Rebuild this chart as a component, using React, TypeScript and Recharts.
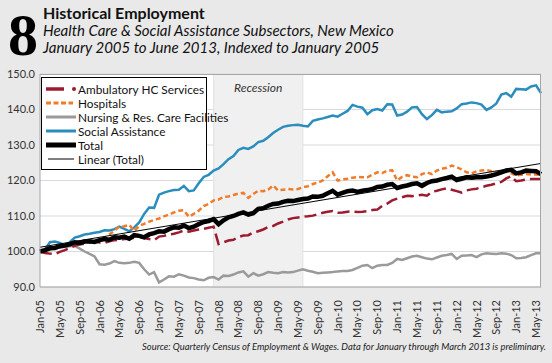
import { LineChart, Line, XAxis, YAxis, CartesianGrid, ReferenceArea } from 'recharts';

const monthNames = ['Jan', 'Feb', 'Mar', 'Apr', 'May', 'Jun', 'Jul', 'Aug', 'Sep', 'Oct', 'Nov', 'Dec'];
const yearSuffixes = ['05', '06', '07', '08', '09', '10', '11', '12', '13'];
// Jan-05 .. Jun-13
const periods = yearSuffixes.flatMap((y) => monthNames.map((m) => `${m}-${y}`)).slice(0, 102);

const ambulatory = [
  100.0, 99.6, 99.4, 99.3, 99.9, 100.4, 101.0, 101.6, 102.0, 102.2, 102.5, 102.8,
  102.5, 102.4, 102.9, 103.2, 103.3, 103.5, 103.6, 103.9, 104.2, 103.8, 103.5, 103.2,
  104.2, 104.4, 104.8, 105.0, 105.4, 105.9, 105.6, 105.9, 106.2, 106.4, 106.7, 107.0,
  102.1, 102.6, 103.1, 103.3, 104.1, 104.5, 104.6, 105.4, 105.7, 106.2, 106.9, 107.2,
  107.9, 108.4, 109.0, 109.4, 109.6, 109.8, 109.9, 110.1, 110.5, 110.9, 111.2, 111.4,
  110.9, 111.0, 111.2, 111.3, 111.1, 111.2, 111.4, 111.7, 111.8, 112.9, 113.5, 114.4,
  114.9, 115.3, 115.7, 115.6, 115.8, 116.0, 115.7, 116.8, 117.1, 117.5, 117.8, 117.4,
  117.0, 116.6, 117.2, 117.5, 117.7, 118.1, 118.5, 118.8, 119.2, 119.6, 120.6, 121.2,
  119.8, 120.0, 120.3, 120.4, 120.4, 120.4,
];

const hospitals = [
  100.0, 100.3, 100.8, 101.0, 101.2, 101.6, 101.9, 102.1, 102.2, 102.6, 102.8, 103.0,
  103.1, 103.6, 104.8, 105.9, 107.0, 107.1, 107.5, 105.8, 107.2, 107.8, 108.4, 108.9,
  109.3, 109.9, 110.4, 111.0, 111.5, 111.6, 109.8, 110.6, 111.5, 112.8, 113.4, 114.4,
  114.6, 115.4, 115.5, 115.9, 116.3, 116.5, 115.1, 116.2, 117.1, 117.0, 117.4, 118.6,
  117.2, 117.4, 117.6, 117.5, 117.6, 118.1, 118.4, 119.0, 119.4, 120.0, 121.2, 122.3,
  120.0, 120.3, 120.5, 120.8, 121.0, 120.9, 120.9, 121.6, 122.3, 122.1, 122.8, 122.9,
  120.0, 121.0, 121.5, 121.1, 120.9, 121.8, 122.3, 121.8, 122.8, 123.3, 123.6, 124.2,
  123.8, 123.1, 122.3, 122.0, 122.6, 122.8, 123.0, 122.6, 122.3, 122.4, 122.6, 122.0,
  121.4, 121.6, 121.8, 121.7, 121.7, 121.6,
];

const nursing = [
  100.0, 100.3, 100.6, 100.9, 101.1, 101.3, 101.5, 101.6, 100.8, 100.0, 99.3, 98.6,
  96.4, 96.3, 96.6, 97.3, 96.8, 96.7, 96.8, 97.1, 96.8, 95.0, 93.5, 94.2,
  91.3, 92.1, 93.0, 92.9, 93.6, 93.2, 92.7, 92.5, 92.1, 91.9, 92.6, 92.8,
  92.1, 93.2, 93.1, 93.5, 94.1, 94.4, 92.9, 93.9, 93.2, 93.6, 94.2, 94.0,
  93.9, 94.2, 94.1, 94.2, 94.6, 95.0, 94.6, 94.3, 93.9, 94.0, 94.1, 94.2,
  94.4, 94.5, 94.5, 94.8, 95.4, 96.0, 96.2, 95.3, 96.0, 96.2, 96.2, 96.8,
  97.9, 97.6, 98.1, 98.6, 98.8, 98.4, 98.0, 97.8, 98.3, 98.8, 99.0, 99.3,
  97.9, 98.8, 98.9, 99.0, 98.4, 99.2, 99.5, 99.4, 99.3, 99.5, 99.4, 99.0,
  98.1, 98.2, 98.4, 99.0, 99.5, 99.5,
];

const socialAssistance = [
  100.0, 100.6, 102.6, 102.8, 102.4, 101.7, 102.6, 103.9, 104.3, 104.8, 105.0, 105.3,
  105.5, 106.0, 105.9, 106.3, 107.0, 106.4, 105.7, 106.8, 108.2, 110.6, 112.4, 112.3,
  116.0, 116.6, 117.0, 117.3, 117.4, 118.5, 117.0, 117.2, 119.2, 121.0, 121.6, 122.8,
  123.4, 124.6, 126.0, 126.9, 128.6, 129.2, 128.9, 129.6, 130.8, 131.2, 132.2, 133.4,
  134.3, 135.1, 135.4, 135.6, 135.7, 135.4, 135.2, 136.8, 137.2, 137.5, 137.9, 138.3,
  138.0, 138.8, 139.6, 141.3, 140.8, 140.5, 138.7, 139.8, 140.1, 139.7, 141.5, 141.4,
  138.3, 138.6, 139.4, 140.6, 140.7, 138.7, 137.3, 138.4, 139.9, 139.2, 139.4, 139.5,
  140.3, 141.5, 141.7, 142.0, 141.8, 141.4, 139.9, 140.6, 141.7, 144.2, 144.6, 143.6,
  145.8, 145.7, 145.6, 146.5, 146.8, 144.6,
];

const total = [
  100.0, 100.4, 100.9, 101.0, 101.5, 101.7, 102.0, 102.6, 102.4, 102.8, 102.9, 102.7,
  103.2, 103.5, 103.3, 104.0, 103.9, 104.2, 103.6, 104.6, 104.4, 104.0, 104.8, 105.2,
  105.7, 105.6, 106.3, 106.8, 106.7, 107.3, 106.6, 107.0, 107.7, 108.3, 108.6, 109.1,
  107.7, 108.8, 109.6, 110.0, 110.6, 111.0, 110.4, 110.8, 112.0, 112.2, 112.9, 113.4,
  113.5, 114.0, 114.3, 114.2, 114.5, 114.8, 114.9, 115.5, 115.4, 115.7, 116.4, 117.1,
  116.0, 116.5, 117.0, 117.2, 116.8, 117.1, 117.3, 117.6, 118.2, 118.3, 118.8, 119.0,
  117.9, 118.3, 118.6, 119.0, 119.2, 118.5, 119.3, 119.8, 120.0, 120.4, 120.7, 121.1,
  120.1, 120.5, 120.9, 120.8, 120.9, 120.9, 121.1, 121.4, 121.8, 122.3, 122.8, 123.0,
  122.0, 122.3, 122.8, 122.7, 122.6, 121.8,
];

// trendline end points
const linearStart = 101.2;
const linearEnd = 124.8;

const yTicks = [90, 100, 110, 120, 130, 140, 150];

const data = periods.map((period, i) => ({
  period,
  ambulatory: ambulatory[i],
  hospitals: hospitals[i],
  nursing: nursing[i],
  social: socialAssistance[i],
  total: total[i],
  linear: i === 0 ? linearStart : i === periods.length - 1 ? linearEnd : null,
}));

const FONT = 'Lato, "Open Sans", sans-serif';

const XTick = ({ x, y, payload }: any) => (
  <text
    x={x}
    y={y}
    transform={`rotate(-90 ${x} ${y})`}
    textAnchor="end"
    dx={-5}
    dy={4}
    fontSize={11}
    fill="#333"
    fontFamily={FONT}
  >
    {payload.value}
  </text>
);

const legendRows = [
  { label: 'Ambulatory HC Services', kind: 'amb' },
  { label: 'Hospitals', kind: 'hosp' },
  { label: 'Nursing & Res. Care Facilities', kind: 'nurs' },
  { label: 'Social Assistance', kind: 'soc' },
  { label: 'Total', kind: 'tot' },
  { label: 'Linear (Total)', kind: 'lin' },
];

const LegendIcon = ({ kind }: { kind: string }) => (
  <svg width={32} height={10} style={{ display: 'block', flex: 'none' }}>
    {kind === 'amb' && (
      <>
        <line x1={0} y1={5} x2={18} y2={5} stroke="#9b1b30" strokeWidth={3.5} />
        <circle cx={28} cy={5} r={2} fill="#9b1b30" />
      </>
    )}
    {kind === 'hosp' && <line x1={0} y1={5} x2={27} y2={5} stroke="#f07c2a" strokeWidth={3} strokeDasharray="5 2.5" />}
    {kind === 'nurs' && <line x1={0} y1={5} x2={30} y2={5} stroke="#9a9a9a" strokeWidth={3} />}
    {kind === 'soc' && <line x1={0} y1={5} x2={30} y2={5} stroke="#2a8dbd" strokeWidth={3} />}
    {kind === 'tot' && <line x1={0} y1={5} x2={30} y2={5} stroke="#000" strokeWidth={5} />}
    {kind === 'lin' && <line x1={2} y1={5} x2={28} y2={5} stroke="#000" strokeWidth={1} />}
  </svg>
);

export default function App() {
  return (
    <div
      style={{
        position: 'absolute',
        left: 0,
        top: 0,
        width: 552,
        height: 363,
        background: '#e9e9e9',
        overflow: 'hidden',
      }}
    >
      {/* header */}
      <div
        style={{
          position: 'absolute',
          left: 8,
          top: 1,
          fontFamily: '"Liberation Serif", serif',
          fontWeight: 'bold',
          fontSize: 60,
          lineHeight: 'normal',
          color: '#000',
        }}
      >
        8
      </div>
      <div style={{ position: 'absolute', left: 43, top: 4, fontFamily: FONT, color: '#111' }}>
        <div style={{ fontWeight: 'bold', fontSize: 16, lineHeight: '18px' }}>Historical Employment</div>
        <div style={{ fontStyle: 'italic', fontSize: 15, lineHeight: '17px' }}>
          Health Care &amp; Social Assistance Subsectors, New Mexico
        </div>
        <div style={{ fontStyle: 'italic', fontSize: 15, lineHeight: '17px' }}>
          January 2005 to June 2013, Indexed to January 2005
        </div>
      </div>

      <div style={{ position: 'absolute', left: 0, top: 0 }}>
        <LineChart width={552} height={363} data={data} margin={{ top: 74, right: 11, bottom: 26, left: 0 }}>
          <CartesianGrid vertical={false} stroke="#d9d9d9" fill="#fff" />
          <ReferenceArea
            x1="Dec-07"
            x2="Jun-09"
            y1={90}
            y2={150}
            fill="#f0f0f0"
            fillOpacity={1}
            stroke="#e2e2e2"
            label={{ value: 'Recession', position: 'insideTop', offset: 9, fill: '#333', fontSize: 12, fontStyle: 'italic', fontFamily: FONT }}
          />
          <XAxis
            dataKey="period"
            interval={3}
            tick={<XTick />}
            tickLine={false}
            axisLine={{ stroke: '#a6a6a6' }}
            height={50}
          />
          <YAxis
            domain={[90, 150]}
            ticks={yTicks}
            tickFormatter={(v: number) => v.toFixed(1)}
            tick={{ fontSize: 11, fill: '#333', fontFamily: FONT }}
            tickLine={false}
            tickSize={0}
            tickMargin={5}
            axisLine={{ stroke: '#a6a6a6' }}
            width={40}
          />
          <Line dataKey="nursing" stroke="#9a9a9a" strokeWidth={2.5} dot={false} isAnimationActive={false} />
          <Line dataKey="social" stroke="#2a8dbd" strokeWidth={2.5} dot={false} isAnimationActive={false} />
          <Line dataKey="hospitals" stroke="#f07c2a" strokeWidth={2.5} strokeDasharray="5 3" dot={false} isAnimationActive={false} />
          <Line dataKey="ambulatory" stroke="#9b1b30" strokeWidth={2.5} strokeDasharray="12 5" dot={false} isAnimationActive={false} />
          <Line dataKey="total" stroke="#000" strokeWidth={4.5} dot={false} isAnimationActive={false} />
          <Line dataKey="linear" stroke="#000" strokeWidth={1} dot={false} connectNulls isAnimationActive={false} />
        </LineChart>
      </div>

      {/* plot frame */}
      <div
        style={{
          position: 'absolute',
          left: 40,
          top: 74,
          width: 501,
          height: 213,
          borderTop: '1px solid #a6a6a6',
          borderRight: '1px solid #a6a6a6',
          boxSizing: 'border-box',
          pointerEvents: 'none',
        }}
      />

      {/* legend */}
      <div
        style={{
          position: 'absolute',
          left: 41,
          top: 77,
          background: '#fff',
          border: '1px solid #000',
          padding: '4px 4px 3px 4px',
          width: 156,
          fontFamily: FONT,
          fontSize: 11.8,
          color: '#111',
        }}
      >
        {legendRows.map((r) => (
          <div key={r.kind} style={{ display: 'flex', alignItems: 'center', height: 14, whiteSpace: 'nowrap' }}>
            <LegendIcon kind={r.kind} />
            <span>{r.label}</span>
          </div>
        ))}
      </div>

      <div
        style={{
          position: 'absolute',
          right: 6,
          top: 341,
          fontFamily: FONT,
          fontStyle: 'italic',
          fontSize: 9.4,
          color: '#222',
          whiteSpace: 'nowrap',
        }}
      >
        Source: Quarterly Census of Employment &amp; Wages. Data for January through March 2013 is preliminary.
      </div>
    </div>
  );
}
